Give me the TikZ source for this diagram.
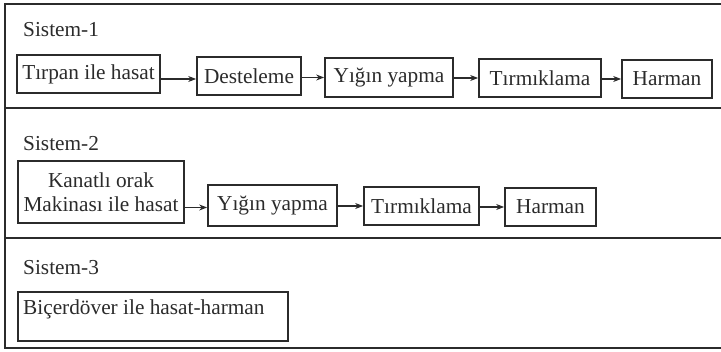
\documentclass[tikz,border=0pt]{standalone}
\usepackage{fontspec}
\setmainfont{Liberation Serif}
\usetikzlibrary{arrows.meta,calc}
\definecolor{ink}{HTML}{2B2B2B}
\begin{document}
\begin{tikzpicture}[x=1pt,y=-1pt,
  every node/.style={font=\fontsize{21.3}{24}\selectfont, text=ink},
  stage/.style={draw=ink, line width=1.7pt, inner sep=0pt, align=center},
  flow/.style={draw=ink, line width=1.2pt, -{Stealth[length=8pt,width=6pt]}},
  frame/.style={draw=ink, line width=2pt},
  syslabel/.style={anchor=base west, inner sep=0pt}]
\useasboundingbox (0,0) rectangle (721,352);
% frame
\draw[frame] (721,4) -- (5,4) -- (5,348) -- (721,348);
\draw[frame] (5,108) -- (721,108);
\draw[frame] (5,238) -- (721,238);
% Sistem-1
\node[syslabel] (s1) at (23,37) {Sistem-1};
\node[stage, minimum width=143pt, minimum height=38pt] (t1) at (88.5,74) {Tırpan ile hasat};
\node[stage, minimum width=104pt, minimum height=38pt] (d1) at (249,76) {Desteleme};
\node[stage, minimum width=128pt, minimum height=39pt] (y1) at (389,77.5) {Yığın yapma};
\node[stage, minimum width=122pt, minimum height=38pt] (m1) at (540,78) {Tırmıklama};
\node[stage, minimum width=90pt, minimum height=38pt] (h1) at (667,79) {Harman};
\draw[flow] ($(t1.east |- d1.west)+(0,3)$) -- ($(d1.west)+(0,3)$);
\draw[flow] (d1.east |- y1.west) -- (y1.west);
\draw[flow] (y1.east |- m1.west) -- (m1.west);
\draw[flow] (m1.east |- h1.west) -- (h1.west);
% Sistem-2
\node[syslabel] (s2) at (23,151) {Sistem-2};
\node[stage, minimum width=166pt, minimum height=62pt] (k2) at (101,192) {Kanatlı orak\\Makinası ile hasat};
\node[stage, minimum width=129pt, minimum height=41pt] (y2) at (272.5,205.5) {Yığın yapma};
\node[stage, minimum width=115pt, minimum height=38pt] (m2) at (421.5,206) {Tırmıklama};
\node[stage, minimum width=91pt, minimum height=38pt] (h2) at (550.5,207) {Harman};
\draw[flow] ($(k2.east |- y2.west)+(0,2)$) -- ($(y2.west)+(0,2)$);
\draw[flow] (y2.east |- m2.west) -- (m2.west);
\draw[flow] (m2.east |- h2.west) -- (h2.west);
% Sistem-3
\node[syslabel] (s3) at (23,275) {Sistem-3};
\node[stage, minimum width=270pt, minimum height=49pt, anchor=north west] (b3) at (17,291) {};
\node[anchor=base west, inner sep=0pt] (b3t) at (23,315) {Biçerdöver ile hasat-harman};
\end{tikzpicture}
\end{document}
